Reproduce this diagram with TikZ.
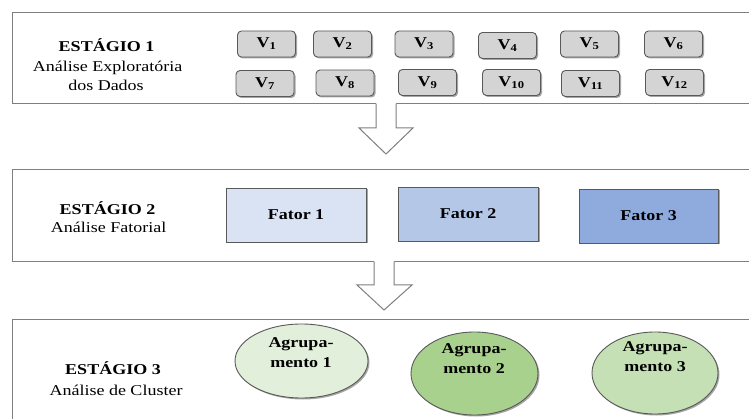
\documentclass[tikz,border=0pt]{standalone}
\usepackage{fontspec}
\setmainfont{Liberation Serif}[FakeStretch=1.2]
\usetikzlibrary{shapes.geometric,shadows}
\definecolor{framegray}{HTML}{7F7F7F}
\definecolor{vfill}{HTML}{D4D4D4}
\definecolor{vborder}{HTML}{595959}
\definecolor{fatA}{HTML}{DAE3F3}
\definecolor{fatB}{HTML}{B4C7E7}
\definecolor{fatC}{HTML}{8FAADC}
\definecolor{grA}{HTML}{E2EFDA}
\definecolor{grB}{HTML}{A9D18E}
\definecolor{grC}{HTML}{C5E0B4}
\tikzset{
  stageframe/.style={draw=framegray, line width=1.2pt},
  shad/.style={drop shadow={shadow xshift=1.5pt, shadow yshift=-1.5pt, fill=black, opacity=0.35}},
  vbox/.style={draw=vborder, line width=0.9pt, fill=vfill, rounded corners=4pt,
    minimum width=58pt, minimum height=26pt, inner sep=0pt, shad,
    font=\fontsize{15}{17}\selectfont\bfseries},
  fatbox/.style={draw=vborder, line width=0.9pt, minimum width=140pt, minimum height=54pt,
    inner sep=0pt, shad, font=\fontsize{15}{17}\selectfont\bfseries},
  grp/.style={ellipse, draw=vborder, line width=0.9pt, inner sep=0pt, shad},
  grptext/.style={align=center, inner sep=0pt, font=\fontsize{15}{20}\selectfont\bfseries},
  stitle/.style={anchor=base, inner sep=0pt, font=\fontsize{15}{19}\selectfont\bfseries},
  ssub/.style={anchor=base, inner sep=0pt, font=\fontsize{15}{19}\selectfont},
  blockarrow/.style={draw=framegray, line width=1pt, line join=miter},
}
\begin{document}
\begin{tikzpicture}[x=1pt,y=-1pt]
\clip (0,0) rectangle (749,419);
\fill[white] (0,0) rectangle (749,419);
% stage frames
\node[stageframe, minimum width=760pt, minimum height=91pt, anchor=north west, inner sep=0pt] (st1) at (12,12) {};
\node[stageframe, minimum width=760pt, minimum height=92pt, anchor=north west, inner sep=0pt] (st2) at (12,169) {};
\node[stageframe, minimum width=760pt, minimum height=130pt, anchor=north west, inner sep=0pt] (st3) at (12,319) {};
% block arrows
\fill[white] (376,99) -- (376,128) -- (359,128) -- (386,154) -- (413,128) -- (396,128) -- (396,99) -- cycle;
\draw[blockarrow] (376,103.6) -- (376,128) -- (359,128) -- (386,154) -- (413,128) -- (396,128) -- (396,103.6);
\fill[white] (374,257) -- (374,285) -- (357,285) -- (384,310) -- (412,285) -- (394,285) -- (394,257) -- cycle;
\draw[blockarrow] (374,261.6) -- (374,285) -- (357,285) -- (384,310) -- (412,285) -- (394,285) -- (394,261.6);
% stage texts
\node[stitle] (t1a) at (106.5,52) {ESTÁGIO 1};
\node[ssub] (t1b) at (107.5,72) {Análise Exploratória};
\node[ssub] (t1c) at (106,91) {dos Dados};
\node[stitle] (t2a) at (107.5,215) {ESTÁGIO 2};
\node[ssub] (t2b) at (108.5,233) {Análise Fatorial};
\node[stitle] (t3a) at (113,374) {ESTÁGIO 3};
\node[ssub] (t3b) at (116,395) {Análise de Cluster};
% variables
\node[vbox] (v1) at (266.5,44) {V\textsubscript{1}};
\node[vbox] (v2) at (342.5,44) {V\textsubscript{2}};
\node[vbox] (v3) at (424,44) {V\textsubscript{3}};
\node[vbox] (v4) at (507.5,45.5) {V\textsubscript{4}};
\node[vbox] (v5) at (589.5,44) {V\textsubscript{5}};
\node[vbox] (v6) at (673.5,44) {V\textsubscript{6}};
\node[vbox] (v7) at (265,83.5) {V\textsubscript{7}};
\node[vbox] (v8) at (345,83) {V\textsubscript{8}};
\node[vbox] (v9) at (427.5,82.5) {V\textsubscript{9}};
\node[vbox] (v10) at (511.5,82.5) {V\textsubscript{10}};
\node[vbox] (v11) at (590.5,83.5) {V\textsubscript{11}};
\node[vbox] (v12) at (674.5,82.5) {V\textsubscript{12}};
% factors
\node[fatbox, fill=fatA] (f1) at (296,215) {Fator 1};
\node[fatbox, fill=fatB] (f2) at (468,214) {Fator 2};
\node[fatbox, fill=fatC, minimum width=139pt] (f3) at (648.5,216) {Fator 3};
% clusters
\node[grp, fill=grA, minimum width=133pt, minimum height=74pt] (g1) at (301.5,361) {};
\node[grp, fill=grB, minimum width=127pt, minimum height=83pt] (g2) at (474.5,373.5) {};
\node[grp, fill=grC, minimum width=126pt, minimum height=82pt] (g3) at (655,373) {};
\node[grptext] (g1t) at (301,353) {Agrupa-\\mento 1};
\node[grptext] (g2t) at (474,359) {Agrupa-\\mento 2};
\node[grptext] (g3t) at (655,357) {Agrupa-\\mento 3};
\end{tikzpicture}
\end{document}
